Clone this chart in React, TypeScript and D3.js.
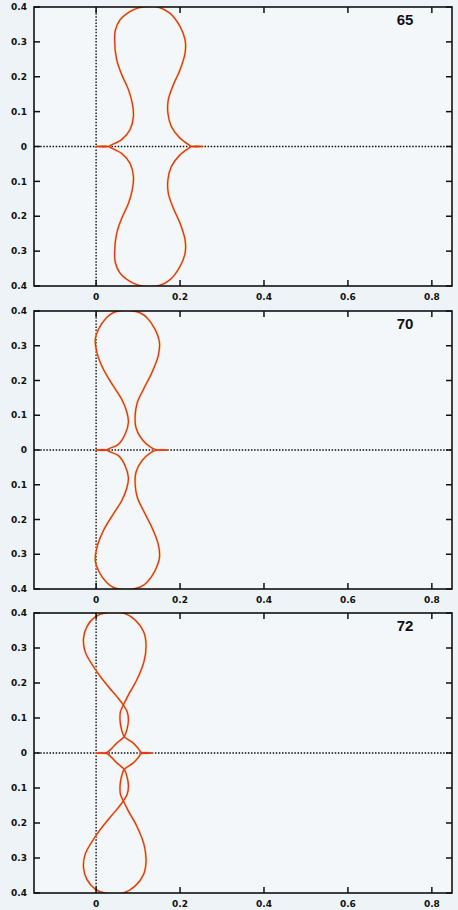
import React from "react";
import * as d3 from "d3";

// ---- data ----
const PANEL_LABELS = ["65", "70", "72"];

const X_TICKS = [0, 0.2, 0.4, 0.6, 0.8];
const X_TICK_LABELS = ["0", "0.2", "0.4", "0.6", "0.8"];
const Y_TICKS = [0.4, 0.3, 0.2, 0.1, 0, -0.1, -0.2, -0.3, -0.4];
const Y_TICK_LABELS = ["0.4", "0.3", "0.2", "0.1", "0", "0.1", "0.2", "0.3", "0.4"];

// upper halves of the (x-axis symmetric) curves, from left spike tip to right spike tip
const UPPER_65: [number, number][] = [
  [0.0, 0.0], [0.03, 0.0], [0.036, 0.004], [0.061, 0.02], [0.081, 0.049], [0.089, 0.087],
  [0.086, 0.125], [0.077, 0.163], [0.061, 0.206], [0.049, 0.249], [0.044, 0.306],
  [0.046, 0.334], [0.057, 0.363], [0.081, 0.387], [0.1, 0.397], [0.125, 0.402],
  [0.15, 0.399], [0.176, 0.382], [0.2, 0.344], [0.212, 0.306], [0.212, 0.268],
  [0.2, 0.22], [0.184, 0.177], [0.172, 0.134], [0.171, 0.096], [0.179, 0.058],
  [0.199, 0.025], [0.222, 0.004], [0.228, 0.0], [0.254, 0.0],
];

const UPPER_70: [number, number][] = [
  [0.0, 0.0], [0.025, 0.0], [0.031, 0.004], [0.053, 0.016], [0.069, 0.045], [0.077, 0.08],
  [0.073, 0.11], [0.061, 0.146], [0.041, 0.184], [0.017, 0.233], [0.002, 0.28],
  [-0.002, 0.319], [0.006, 0.348], [0.025, 0.381], [0.042, 0.396], [0.065, 0.402],
  [0.088, 0.4], [0.106, 0.394], [0.121, 0.381], [0.14, 0.348], [0.151, 0.309],
  [0.148, 0.271], [0.133, 0.223], [0.113, 0.175], [0.098, 0.136], [0.093, 0.098],
  [0.095, 0.064], [0.109, 0.031], [0.131, 0.007], [0.146, 0.0], [0.17, 0.0],
];

const UPPER_72: [number, number][] = [
  [0.0, 0.0], [0.025, 0.001], [0.037, 0.013], [0.049, 0.028], [0.067, 0.047],
  [0.074, 0.07], [0.077, 0.094], [0.074, 0.118], [0.065, 0.137], [0.053, 0.156],
  [0.029, 0.19], [0.002, 0.232], [-0.026, 0.289], [-0.03, 0.328], [-0.022, 0.361],
  [-0.002, 0.389], [0.025, 0.401], [0.065, 0.4], [0.093, 0.38], [0.113, 0.347],
  [0.119, 0.309], [0.114, 0.261], [0.097, 0.209], [0.077, 0.166], [0.065, 0.137],
  [0.058, 0.118], [0.057, 0.094], [0.06, 0.07], [0.067, 0.047], [0.089, 0.028],
  [0.101, 0.012], [0.108, 0.001], [0.132, 0.0],
];

const CURVES = [UPPER_65, UPPER_70, UPPER_72];

// ---- layout ----
const W = 458;
const H = 910;
const LEFT = 34;
const RIGHT = 452;
const FRAMES = [
  { top: 7, bottom: 286 },
  { top: 311, bottom: 589 },
  { top: 613, bottom: 893 },
];

const x = d3.scaleLinear().domain([-0.148, 0.848]).range([LEFT, RIGHT]);

function Panel({ idx }: { idx: number }) {
  const { top, bottom } = FRAMES[idx];
  const y = d3.scaleLinear().domain([-0.4, 0.4]).range([bottom, top]);
  const upper = CURVES[idx];
  const lower = upper.map(([a, b]) => [a, -b] as [number, number]);
  const line = d3
    .line<[number, number]>()
    .x((d) => x(d[0]))
    .y((d) => y(d[1]))
    .curve(d3.curveCatmullRom.alpha(0.5));
  const clipId = `clip-${idx}`;
  const tick = 6;
  const tickFont = {
    fontFamily: "'DejaVu Sans', sans-serif",
    fontWeight: 700,
    fontSize: 9,
    fill: "#111",
  } as const;
  return (
    <g>
      <defs>
        <clipPath id={clipId}>
          <rect x={LEFT} y={top} width={RIGHT - LEFT} height={bottom - top} />
        </clipPath>
      </defs>
      <rect x={LEFT} y={top} width={RIGHT - LEFT} height={bottom - top} fill="#f3f7fa" />
      {/* dotted zero lines */}
      <line x1={x(0)} x2={x(0)} y1={top} y2={bottom} stroke="#111" strokeWidth={1.4} strokeDasharray="1.5,1.6" />
      <line x1={LEFT} x2={RIGHT} y1={y(0)} y2={y(0)} stroke="#111" strokeWidth={1.4} strokeDasharray="1.5,1.6" />
      {/* curves */}
      <g clipPath={`url(#${clipId})`} fill="none" strokeLinejoin="round" strokeLinecap="round">
        {[upper, lower].map((pts, i) => (
          <path key={`h${i}`} d={line(pts) || ""} stroke="#f2b24a" strokeWidth={2.2} opacity={0.7} />
        ))}
        {[upper, lower].map((pts, i) => (
          <path key={`c${i}`} d={line(pts) || ""} stroke="#e0301a" strokeWidth={1.2} />
        ))}
      </g>
      {/* frame */}
      <rect x={LEFT} y={top} width={RIGHT - LEFT} height={bottom - top} fill="none" stroke="#111" strokeWidth={1.6} />
      {/* x ticks */}
      {X_TICKS.map((t, i) => (
        <g key={`xt${i}`}>
          <line x1={x(t)} x2={x(t)} y1={bottom} y2={bottom - tick} stroke="#111" strokeWidth={1.5} />
          <line x1={x(t)} x2={x(t)} y1={top} y2={top + tick} stroke="#111" strokeWidth={1.5} />
          <text x={x(t)} y={bottom + 14} textAnchor="middle" style={tickFont}>
            {X_TICK_LABELS[i]}
          </text>
        </g>
      ))}
      {/* y ticks */}
      {Y_TICKS.map((t, i) => (
        <g key={`yt${i}`}>
          <line x1={LEFT} x2={LEFT + tick} y1={y(t)} y2={y(t)} stroke="#111" strokeWidth={1.5} />
          <line x1={RIGHT} x2={RIGHT - tick} y1={y(t)} y2={y(t)} stroke="#111" strokeWidth={1.5} />
          <text x={27} y={y(t)} dy="0.35em" textAnchor="end" style={tickFont}>
            {Y_TICK_LABELS[i]}
          </text>
        </g>
      ))}
      <text
        x={405}
        y={top + 13}
        dy="0.35em"
        textAnchor="middle"
        style={{ fontFamily: "'Liberation Sans', Arial, sans-serif", fontWeight: 700, fontSize: 15, fill: "#111" }}
      >
        {PANEL_LABELS[idx]}
      </text>
    </g>
  );
}

export default function App() {
  return (
    <svg
      width={W}
      height={H}
      viewBox={`0 0 ${W} ${H}`}
      style={{ position: "absolute", left: 0, top: 0, display: "block" }}
    >
      <rect x={0} y={0} width={W} height={H} fill="#edf3f6" />
      {FRAMES.map((_, i) => (
        <Panel key={i} idx={i} />
      ))}
    </svg>
  );
}
